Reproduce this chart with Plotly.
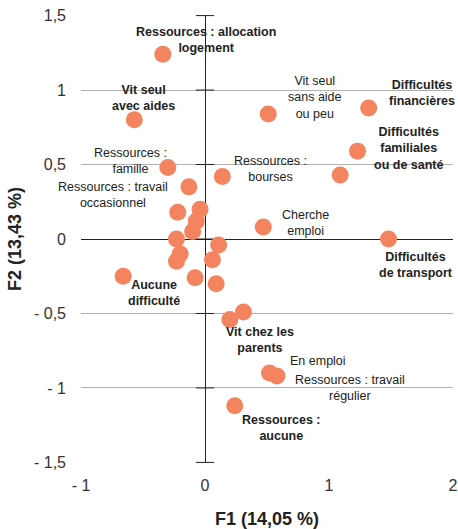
import plotly.graph_objects as go

# labelled modalities (F1, F2 coordinates)
labels = [
    "Ressources : allocation<br>logement",
    "Vit seul<br>avec aides",
    "Ressources :<br>famille",
    "Ressources : travail<br>occasionnel",
    "Ressources :<br>bourses",
    "Vit seul<br>sans aide<br>ou peu",
    "Difficultés<br>financières",
    "Difficultés<br>familiales<br>ou de santé",
    "Cherche<br>emploi",
    "Difficultés<br>de transport",
    "Aucune<br>difficulté",
    "Vit chez les<br>parents",
    "En emploi",
    "Ressources : travail<br>régulier",
    "Ressources :<br>aucune",
]
label_x = [-0.34, -0.57, -0.30, -0.13, 0.14, 0.51, 1.32, 1.23, 0.47, 1.48, -0.66, 0.20, 0.52, 0.58, 0.24]
label_y = [1.24, 0.80, 0.48, 0.35, 0.42, 0.84, 0.88, 0.59, 0.08, 0.00, -0.25, -0.54, -0.90, -0.92, -1.12]
label_bold = [True, True, False, False, False, False, True, True, False, True, True, True, False, False, True]

# unlabelled modalities
other_x = [1.09, -0.22, -0.04, -0.07, -0.10, -0.23, -0.20, -0.23, -0.08, 0.11, 0.06, 0.09, 0.31]
other_y = [0.43, 0.18, 0.20, 0.12, 0.05, 0.00, -0.10, -0.15, -0.26, -0.04, -0.14, -0.30, -0.49]

y_ticks = [1.5, 1, 0.5, 0, -0.5, -1, -1.5]
y_ticktext = ["1,5", "1", "0,5", "0", "- 0,5", "- 1", "- 1,5"]
x_ticks = [-1, 0, 1, 2]
x_ticktext = ["- 1", "0", "1", "2"]

# label offsets from their point, in pixels
label_dx = [43, 9, -37, -76, 48, 47, 53, 51, 42, 27, 31, 30, 49, 73, 47]
label_dy = [14, 22, 7, -8, 7, 16, 15, 3, 4, -26, -17, -21, 12, -12, -22]

FONT = "Arial, Liberation Sans, sans-serif"
ORANGE = "#F4845F"

fig = go.Figure()

# tick marks across the F2 axis at x = 0
fig.add_trace(go.Scatter(
    x=[0] * len(y_ticks), y=y_ticks, mode="markers",
    marker=dict(symbol="line-ew", size=13, line=dict(color="#222", width=1)),
    hoverinfo="skip", showlegend=False,
))

fig.add_trace(go.Scatter(
    x=other_x + label_x, y=other_y + label_y, mode="markers",
    marker=dict(color=ORANGE, size=17),
    showlegend=False,
))

for txt, x, y, b, dx, dy in zip(labels, label_x, label_y, label_bold, label_dx, label_dy):
    fig.add_annotation(
        x=x, y=y, text=f"<b>{txt}</b>" if b else txt,
        showarrow=False, xshift=dx, yshift=dy,
        font=dict(family=FONT, size=12.5, color="#222"),
        align="center",
    )

fig.update_xaxes(
    range=[-1, 2], showgrid=False, automargin=False,
    zeroline=True, zerolinecolor="#222", zerolinewidth=1,
    tickvals=x_ticks, ticktext=x_ticktext,
    tickfont=dict(family=FONT, size=16, color="#333"),
    ticklabelstandoff=11, ticklabeloverflow="allow",
    title=dict(text="<b>F1 (14,05 %)</b>", font=dict(family=FONT, size=18, color="#222"), standoff=19),
)
# range padded a hair so the gridlines at +/-1.5 are still drawn
fig.update_yaxes(
    range=[-1.504, 1.504], showgrid=True, gridcolor="#b0b0b0", gridwidth=1,
    automargin=False,
    zeroline=True, zerolinecolor="#222", zerolinewidth=1,
    tickvals=y_ticks, ticktext=y_ticktext,
    tickfont=dict(family=FONT, size=16, color="#333"),
    ticklabelstandoff=14, ticklabeloverflow="allow",
    title=dict(text="<b>F2 (13,43 %)</b>", font=dict(family=FONT, size=18, color="#222"), standoff=7),
)

fig.update_layout(
    width=458, height=529,
    margin=dict(l=81, r=5, t=15, b=66, autoexpand=False),
    plot_bgcolor="white", paper_bgcolor="white",
    showlegend=False,
)

# drop the default page margin so the figure sits at the window's corner
fig.write_html("out.html", config={"displayModeBar": False},
               post_script="document.body.style.margin='0';")
